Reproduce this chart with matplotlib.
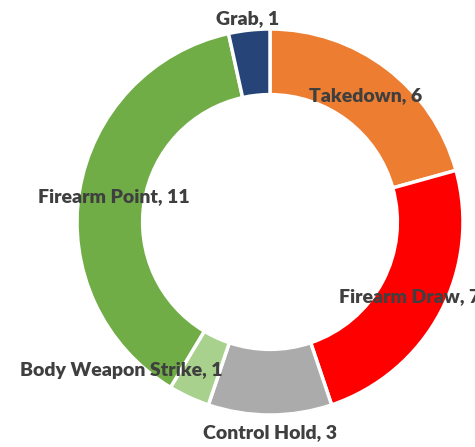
import numpy as np
import matplotlib
matplotlib.use("Agg")
import matplotlib.pyplot as plt

labels = ['Takedown', 'Firearm Draw', 'Control Hold', 'Body Weapon Strike', 'Firearm Point', 'Grab']
counts = [6, 7, 3, 1, 11, 1]
colors = ['#ED7D31', '#FF0000', '#ABABAB', '#A9D18E', '#70AD47', '#264478']

# where each label sits, as a fraction of the outer radius
label_r = [0.82, 0.82, 1.09, 1.09, 0.82, 1.06]

plt.rcParams['font.family'] = ['Lato', 'DejaVu Sans']

W, H = 475, 447
fig = plt.figure(figsize=(W / 100, H / 100), dpi=100)
ax = fig.add_axes([0, 0, 1, 1])

cx, cy, R = 270, H - 222, 193
wedges, _ = ax.pie(counts, colors=colors, startangle=90, counterclock=False,
                   center=(cx, cy), radius=R, frame=True,
                   wedgeprops=dict(width=R * 0.34, edgecolor='white', linewidth=2.5))
ax.set_xlim(0, W)
ax.set_ylim(0, H)
ax.axis('off')

for w, lab, n, rf in zip(wedges, labels, counts, label_r):
    ang = np.deg2rad((w.theta1 + w.theta2) / 2)
    if lab == 'Body Weapon Strike':
        ang = np.deg2rad(w.theta1 - 14)
    x = cx + rf * R * np.cos(ang)
    y = cy + rf * R * np.sin(ang)
    ax.text(x, y, f'{lab}, {n}', ha='center', va='center', fontsize=14,
            fontweight='heavy', color='#3F3F3F')

fig.savefig('out.png', dpi=100)
